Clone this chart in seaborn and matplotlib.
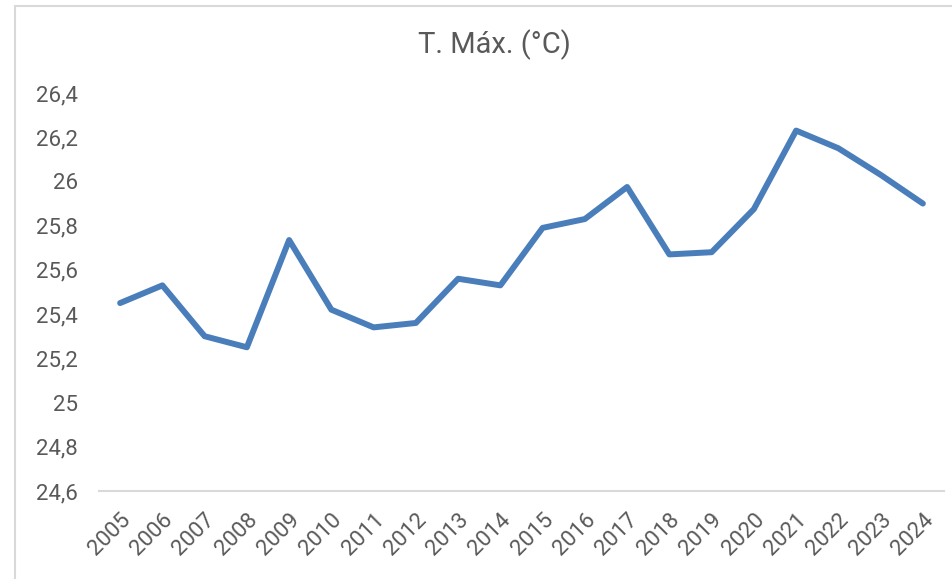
import matplotlib
matplotlib.use("Agg")
import matplotlib.pyplot as plt
import seaborn as sns
import pandas as pd
from matplotlib.patches import Rectangle
from matplotlib.ticker import FuncFormatter

years = [str(y) for y in range(2005, 2025)]
tmax = [25.45, 25.53, 25.30, 25.25, 25.735, 25.42, 25.34, 25.36, 25.56, 25.53,
        25.79, 25.83, 25.975, 25.67, 25.68, 25.875, 26.23, 26.15, 26.03, 25.90]
y_ticks = [24.6, 24.8, 25.0, 25.2, 25.4, 25.6, 25.8, 26.0, 26.2, 26.4]

df = pd.DataFrame({"year": years, "tmax": tmax})

sns.set_theme(style="white")
plt.rcParams["font.family"] = ["Roboto", "DejaVu Sans"]

fig = plt.figure(figsize=(9.53, 5.79), dpi=100)
ax = fig.add_axes([99 / 953, 1 - 491 / 579, (944 - 99) / 953, (491 - 93) / 579])

sns.lineplot(data=df, x="year", y="tmax", ax=ax, color="#4a7ebb", linewidth=4.3,
             sort=False)

ax.set_xlim(-0.5, len(years) - 0.5)
ax.set_ylim(24.6, 26.4)
ax.set_yticks(y_ticks)
ax.yaxis.set_major_formatter(FuncFormatter(lambda v, p: f"{v:.1f}".rstrip("0").rstrip(".").replace(".", ",")))
ax.set_xlabel("")
ax.set_ylabel("")

# title centred on the chart area (as in the spreadsheet chart), not on the axes
fig.text(494.5 / 953, 1 - 53 / 579, "T. Máx. (°C)", fontsize=21, color="#595959",
         ha="center", va="baseline")

for s in ["top", "right", "left"]:
    ax.spines[s].set_visible(False)
ax.spines["bottom"].set_color("#d9d9d9")
ax.spines["bottom"].set_linewidth(1.5)
ax.tick_params(axis="both", length=0, colors="#595959", labelsize=16)
ax.tick_params(axis="y", pad=15)
ax.tick_params(axis="x", pad=13)
for lbl in ax.get_xticklabels():
    lbl.set_rotation(45)
    lbl.set_ha("right")
    lbl.set_rotation_mode("anchor")

# chart frame
fig.patches.append(Rectangle((15 / 953, -0.1), 1.2, 1 - 6 / 579 + 0.1,
                             transform=fig.transFigure, fill=False,
                             edgecolor="#d9d9d9", linewidth=1.5))

fig.savefig("out.png", dpi=100)
